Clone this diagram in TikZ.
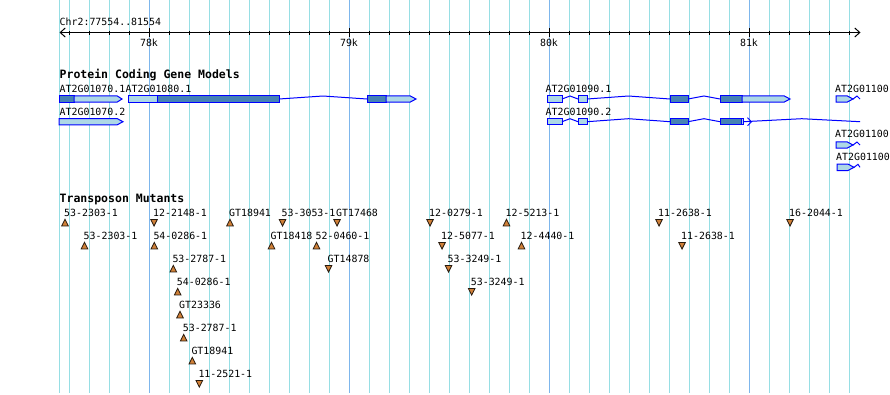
\documentclass[tikz,border=0pt]{standalone}
\usepackage{fontspec}
\setmainfont{DejaVu Sans Mono}
\usetikzlibrary{arrows.meta}

\definecolor{gridlo}{RGB}{150,222,228}
\definecolor{gridhi}{RGB}{125,182,236}
\definecolor{exlight}{RGB}{173,216,230}
\definecolor{exdark}{RGB}{70,130,180}
\definecolor{mutfill}{RGB}{208,128,56}

\tikzset{
  lbl/.style={anchor=base west,inner sep=0pt,font=\fontsize{9.9}{12}\selectfont},
  head/.style={anchor=base west,inner sep=0pt,font=\bfseries\fontsize{11.5}{13}\selectfont},
  exonlt/.style={draw=blue,fill=exlight,line width=1pt},
  exondk/.style={draw=blue,fill=exdark,line width=1pt},
  intron/.style={draw=blue,line width=1pt},
  mutmark/.style={draw=black!80!brown,fill=mutfill,line width=0.8pt}
}
\newcommand{\exbox}[4]{\filldraw[#1] (#2,#4-3.2) rectangle (#3,#4+3.2);}
\newcommand{\extip}[4]{\filldraw[exonlt] (#1,#4-3.2) -- (#2,#4-3.2) -- (#3,#4) -- (#2,#4+3.2) -- (#1,#4+3.2) -- cycle;}
\newcommand{\intr}[3]{\draw[intron] (#1,#3) -- ({(#1+#2)/2},#3-3) -- (#2,#3);}

\begin{document}
\begin{tikzpicture}[x=1pt,y=-1pt,>=Stealth]
  \useasboundingbox (0,0) rectangle (890,394);
  % grid
  \foreach \x in {59,69,89,...,849}
    \draw[gridlo,line width=1.1pt] (\x+0.5,0) -- (\x+0.5,393);
  \foreach \x in {149,349,549,749}
    \draw[gridhi,line width=1.1pt] (\x+0.5,0) -- (\x+0.5,393);
  % ruler
  \node[lbl] (chr) at (59.5,25) {Chr2:77554..81554};
  \draw[line width=1pt,{Straight Barb[length=5pt,width=9pt]}-{Straight Barb[length=5pt,width=9pt]}] (59.5,32.5) -- (860.5,32.5);
  \foreach \x in {69,89,...,849}
    \draw[line width=1pt] (\x+0.5,30.5) -- (\x+0.5,34.5);
  \foreach \x/\k in {149/78,349/79,549/80,749/81} {
    \draw[line width=1pt] (\x+0.5,28) -- (\x+0.5,36.5);
    \node[lbl,anchor=base] (k\k) at (\x,46) {\k k};
  }
  % gene models
  \def\ra{99} \def\rb{121.7}
  \node[head] (gm) at (59.5,78.5) {Protein Coding Gene Models};
  \node[lbl] (g70a) at (59.5,92) {AT2G01070.1};
  \node[lbl] (g80) at (125.5,92) {AT2G01080.1};
  \node[lbl] (g70b) at (59.5,115) {AT2G01070.2};
  \node[lbl] (g90a) at (545.5,92) {AT2G01090.1};
  \node[lbl] (g90b) at (545.5,115) {AT2G01090.2};
  \node[lbl] (g100a) at (835,92) {AT2G01100};
  \node[lbl] (g100b) at (835,137.5) {AT2G01100};
  \node[lbl] (g100c) at (836,160) {AT2G01100};

  \exbox{exondk}{59}{74}{\ra}
  \extip{74}{117}{122}{\ra}
  \extip{59}{117}{123}{\rb}

  \exbox{exonlt}{128}{157}{\ra}
  \exbox{exondk}{157}{279}{\ra}
  \intr{279}{367}{\ra}
  \exbox{exondk}{367}{386}{\ra}
  \extip{386}{410}{416}{\ra}

  \exbox{exonlt}{547}{562}{\ra}
  \intr{562}{578}{\ra}
  \exbox{exonlt}{578}{587}{\ra}
  \intr{587}{670}{\ra}
  \exbox{exondk}{670}{688}{\ra}
  \intr{688}{720}{\ra}
  \exbox{exondk}{720}{742}{\ra}
  \extip{742}{784}{790}{\ra}

  \exbox{exonlt}{547}{562}{\rb}
  \intr{562}{578}{\rb}
  \exbox{exonlt}{578}{587}{\rb}
  \intr{587}{670}{\rb}
  \exbox{exondk}{670}{688}{\rb}
  \intr{688}{720}{\rb}
  \exbox{exondk}{720}{741}{\rb}
  \exbox{exonlt}{741}{743.5}{\rb}
  \intr{743.5}{860}{\rb}
  \draw[intron,line width=0.8pt] (747.5,117.7) -- (751.5,\rb) -- (747.5,125.7);

  \foreach \y/\dx in {99/0,145/0,167.3/1} {
    \extip{836+\dx}{847+\dx}{853+\dx}{\y}
    \draw[intron] (853+\dx,\y) -- (857+\dx,\y-3) -- (860,\y);
  }
  % transposon mutants
  \node[head] (tm) at (59.5,202.5) {Transposon Mutants};
  \foreach \x/\r/\d/\t [count=\i] in {
      65/1/1/53-2303-1, 154/1/-1/12-2148-1, 230/1/1/GT18941,
      282.5/1/-1/53-3053-1, 337/1/-1/GT17468, 430/1/-1/12-0279-1,
      506.5/1/1/12-5213-1, 659/1/-1/11-2638-1, 790/1/-1/16-2044-1,
      84.5/2/1/53-2303-1, 154.3/2/1/54-0286-1, 271.5/2/1/GT18418,
      316.5/2/1/52-0460-1, 442/2/-1/12-5077-1, 521.5/2/1/12-4440-1,
      682/2/-1/11-2638-1,
      173.3/3/1/53-2787-1, 328.5/3/-1/GT14878, 448.5/3/-1/53-3249-1,
      177.7/4/1/54-0286-1, 471.7/4/-1/53-3249-1,
      180/5/1/GT23336, 183.7/6/1/53-2787-1, 192.3/7/1/GT18941,
      199.3/8/-1/11-2521-1} {
    \node[lbl] (mut\i) at (\x-1,{216+23*(\r-1)}) {\t};
    \filldraw[mutmark,shift={(\x,{222.7+23*(\r-1)})},yscale=\d]
      (-3.3,3.2) -- (3.3,3.2) -- (0,-3.4) -- cycle;
  }
\end{tikzpicture}
\end{document}
